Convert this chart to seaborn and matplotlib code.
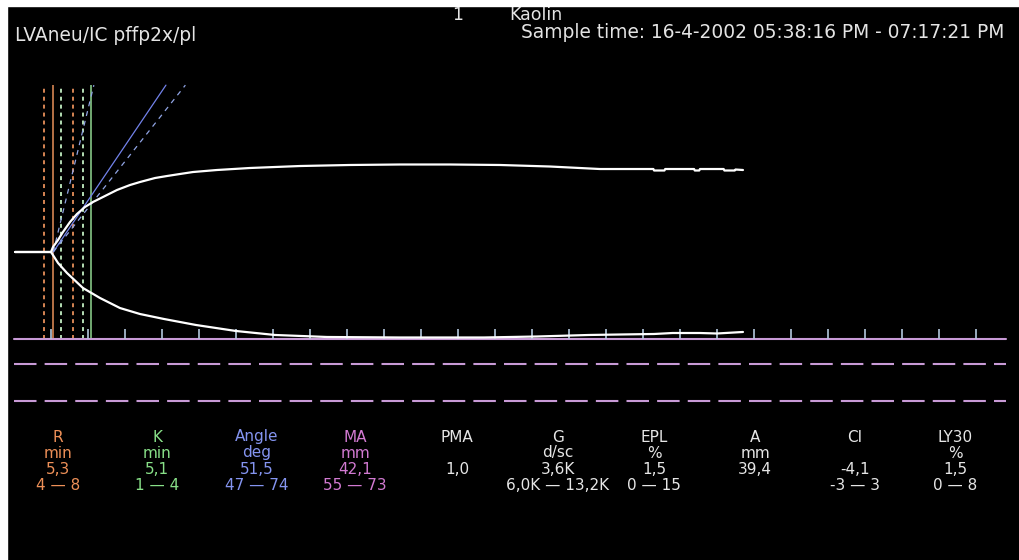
import numpy as np
import pandas as pd
import seaborn as sns
import matplotlib.pyplot as plt
from matplotlib.patches import Rectangle

# trace, time in minutes, half amplitude in mm (upper branch +, lower branch -)
upper_t = [0.14, 5.00, 5.27, 5.95, 6.62, 7.57, 8.51, 9.59, 10.68, 12.30, 13.92,
           15.68, 17.03, 19.05, 20.68, 22.43, 24.19, 27.43, 31.89, 38.65, 45.41,
           52.16, 58.92, 65.68, 72.43, 79.19, 86.40, 86.50, 87.90, 88.00, 91.90,
           92.00, 92.60, 92.70, 95.90, 96.00, 97.40, 97.50, 98.51]
upper_mm = [0.0, 0.0, 1.22, 2.92, 4.87, 7.30, 9.25, 10.95, 12.17, 13.63, 15.09,
            16.30, 17.03, 18.00, 18.49, 18.98, 19.46, 19.95, 20.44, 20.92, 21.17,
            21.29, 21.29, 21.17, 20.80, 20.19, 20.19, 19.83, 19.83, 20.19, 20.19,
            19.83, 19.83, 20.19, 20.19, 19.83, 19.83, 20.07, 19.95]
lower_t = [0.14, 5.00, 5.95, 7.16, 9.32, 11.62, 14.32, 17.03, 20.27, 24.59, 30.00,
           35.27, 42.30, 52.16, 63.51, 70.68, 77.70, 82.00, 86.49, 89.00, 92.70,
           95.00, 98.51]
lower_mm = [0.0, 0.0, -2.68, -5.11, -8.76, -11.19, -13.63, -15.09, -16.30, -17.76,
            -19.22, -20.19, -20.68, -20.80, -20.80, -20.56, -20.19, -20.07, -19.95,
            -19.71, -19.71, -19.83, -19.46]

# results
r_time = 5.3
k_time = 5.1
angle = 51.5
r_range = [4, 8]
k_range = [1, 4]
angle_range = [47, 74]

axis_mm = -21.2
tick_top_mm = -18.7
lysis_lines_mm = [-27.25, -36.25]
marker_top_mm = 40.6
tick_times = list(range(5, 131, 5))
axis_end = 134.0

col_names = ["R", "K", "Angle", "MA", "PMA", "G", "EPL", "A", "CI", "LY30"]
col_units = ["min", "min", "deg", "mm", "", "d/sc", "%", "mm", "", "%"]
col_values = ["5,3", "5,1", "51,5", "42,1", "1,0", "3,6K", "1,5", "39,4", "-4,1", "1,5"]
col_ranges = ["4 \u2014 8", "1 \u2014 4", "47 \u2014 74", "55 \u2014 73", "",
              "6,0K \u2014 13,2K", "0 \u2014 15", "", "-3 \u2014 3", "0 \u2014 8"]
col_colors = ["#ee9058", "#88e088", "#8494f0", "#d27ad2", "#e6e6e6", "#e6e6e6",
              "#e6e6e6", "#e6e6e6", "#e6e6e6", "#e6e6e6"]

W, H = 1019, 560
PX_MIN = 7.4      # px per minute
PX_MM = 4.11      # px per mm
X0, Y0 = 14, 252  # pixel of t=0, amplitude 0

sns.set_theme(style="dark")
plt.rcParams['font.family'] = ['DejaVu Sans']

fig = plt.figure(figsize=(W / 100, H / 100), dpi=100, facecolor="black")
ax = fig.add_axes([0, 0, 1, 1])
ax.set_xlim(-X0 / PX_MIN, (W - X0) / PX_MIN)
ax.set_ylim(-(H - Y0) / PX_MM, Y0 / PX_MM)
ax.axis("off")

# R / K marker lines
orange = "#e8905a"
dots = (0, (2.2, 2.2))
ax.vlines(r_range, axis_mm, marker_top_mm, colors=orange, lw=1.3, linestyles=dots)
ax.vlines([r_time], axis_mm, marker_top_mm, colors=orange, lw=1.1)
ax.vlines([r_time + k for k in k_range], axis_mm, marker_top_mm,
          colors="#c4f0c4", lw=1.3, linestyles=dots)
ax.vlines([r_time + k_time], axis_mm, marker_top_mm, colors="#92d892", lw=1.1)

# angle lines from R
for a, style, col in [(angle, "-", "#7282ea"),
                      (angle_range[0], (0, (4, 4)), "#90a4e4"),
                      (angle_range[1], (0, (4, 4)), "#90a4e4")]:
    slope = 2.12 * np.tan(np.radians(a))
    t_end = r_time + marker_top_mm / slope
    ax.plot([r_time, t_end], [0, marker_top_mm], color=col, lw=0.9, ls=style)

# time axis and lysis lines
purple = "#c89ad6"
ax.plot([0, axis_end], [axis_mm, axis_mm], color=purple, lw=1.5)
ax.vlines(tick_times, axis_mm, tick_top_mm, colors="#b4c8de", lw=1.2)
for y in lysis_lines_mm:
    ax.plot([0, axis_end], [y, y], color=purple, lw=1.5,
            ls=(0, (10.8, 3.9)))

# trace
trace = pd.concat([
    pd.DataFrame({"t": upper_t, "amp": upper_mm, "side": "upper"}),
    pd.DataFrame({"t": lower_t, "amp": lower_mm, "side": "lower"}),
])
sns.lineplot(data=trace, x="t", y="amp", units="side", estimator=None,
             sort=False, color="white", lw=1.6, ax=ax, legend=False)

# header
txt = "#e4e4e4"
fig.text(458 / W, 1 - 20 / H, "1", color=txt, fontsize=12.5, ha="center",
         va="baseline")
fig.text(509 / W, 1 - 20 / H, "Kaolin", color=txt, fontsize=12.5, va="baseline")
fig.text(521 / W, 1 - 37.5 / H,
         "Sample time: 16-4-2002 05:38:16 PM - 07:17:21 PM",
         color=txt, fontsize=13.4, va="baseline")
fig.text(15 / W, 1 - 41 / H, "LVAneu/IC pffp2x/pl", color=txt,
         fontsize=13.4, va="baseline")

# results table
col_x = [58, 157, 257, 355, 457, 558, 654, 755, 855, 955]
row_y = [437, 453, 469, 485]
for i, x in enumerate(col_x):
    rows = [col_names[i], col_units[i], col_values[i], col_ranges[i]]
    for y, s in zip(row_y, rows):
        if s:
            fig.text(x / W, 1 - y / H, s, color=col_colors[i], fontsize=11,
                     ha="center", va="center")

# white border of the screenshot
fig.add_artist(Rectangle((0, 1 - 6 / H), 1, 6 / H, transform=fig.transFigure,
                         color="white", zorder=10))
fig.add_artist(Rectangle((0, 0), 7 / W, 1, transform=fig.transFigure,
                         color="white", zorder=10))

fig.savefig("out.png", dpi=100, facecolor="black")
